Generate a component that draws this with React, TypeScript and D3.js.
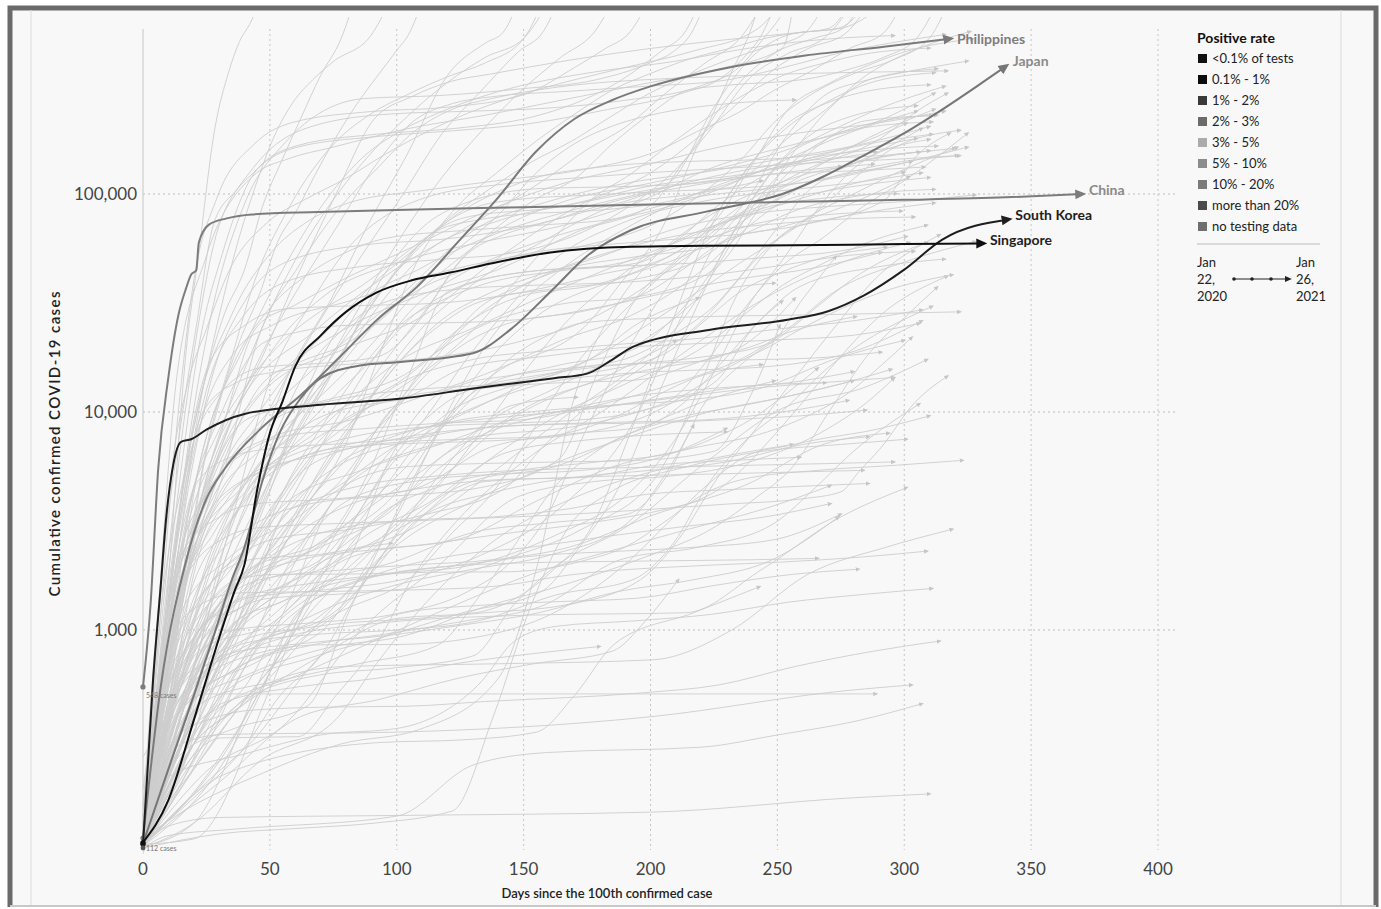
import React, { useEffect, useRef } from "react";
import * as d3 from "d3";

// axis + legend content
const xTicks = [0, 50, 100, 150, 200, 250, 300, 350, 400];
const yTicks = [1000, 10000, 100000];
const legendLabels = ["<0.1% of tests", "0.1% - 1%", "1% - 2%", "2% - 3%", "3% - 5%", "5% - 10%", "10% - 20%", "more than 20%", "no testing data"];
const legendColors = ["#111111", "#0c0c0c", "#393939", "#6b6b6b", "#ababab", "#8c8c8c", "#7b7b7b", "#4b4b4b", "#6f6f6f"];

// highlighted countries: [days since 100th case, cumulative cases]
const chinaPoints = [[0, 548], [3, 1320], [6, 5500], [10, 14400], [14, 28000], [17, 37000], [19, 42700], [21, 44700], [22, 59900], [26, 72400], [33, 77300], [43, 80600], [69, 82600], [100, 84500], [150, 87000], [200, 89500], [250, 91800], [300, 94000], [340, 96500], [370, 100000]];
const japanPoints = [[0, 105], [10, 230], [20, 500], [28, 950], [35, 1700], [40, 2400], [47, 4800], [54, 8100], [62, 11500], [70, 14300], [85, 16300], [100, 16900], [130, 18600], [145, 24000], [161, 36000], [175, 52000], [192, 68000], [222, 83000], [253, 101000], [268, 120000], [283, 148000], [300, 190000], [314, 240000], [330, 320000], [340, 385000]];
const philippinesPoints = [[0, 111], [7, 550], [17, 2080], [25, 4000], [32, 5450], [47, 8500], [62, 11900], [78, 18100], [93, 27000], [108, 37500], [124, 60000], [139, 93400], [155, 157000], [170, 220800], [185, 270000], [200, 311700], [231, 380700], [261, 431600], [292, 474100], [318, 515000]];
const southKoreaPoints = [[0, 104], [4, 600], [7, 1600], [9, 3150], [12, 5800], [15, 7300], [19, 7500], [25, 8300], [40, 9800], [70, 10800], [101, 11500], [131, 12850], [162, 14300], [175, 15000], [185, 17400], [193, 19900], [223, 23800], [254, 26500], [270, 29000], [284, 34200], [300, 45000], [315, 61800], [341, 76400]];
const singaporePoints = [[0, 106], [10, 166], [20, 385], [31, 1000], [36, 1500], [40, 2000], [45, 4400], [50, 8000], [55, 11200], [60, 16200], [70, 22400], [80, 28800], [92, 35300], [106, 40200], [121, 43600], [137, 48000], [152, 52000], [167, 55000], [183, 56800], [213, 57800], [245, 58000], [300, 58900], [331, 59300]];

// every other country, grey in the background
const backgroundSeries: [string, number[][]][] = [
  ["United States", [[0, 100], [10, 1700], [17, 19000], [22, 54000], [28, 190000], [34, 370000], [38, 500000], [42, 600000], [50, 1000000]]],
  ["Italy", [[0, 150], [7, 1700], [14, 7400], [21, 24700], [28, 74000], [37, 105000], [50, 160000], [67, 205000], [98, 233000], [130, 240000], [160, 248000], [190, 269000], [220, 314000], [235, 382000], [245, 525000], [250, 620000], [258, 900000]]],
  ["Spain", [[0, 120], [7, 1200], [13, 7800], [20, 40000], [29, 95000], [44, 170000], [59, 213000], [90, 239000], [120, 250000], [151, 288000], [170, 380000], [182, 463000], [192, 555000], [202, 900000]]],
  ["Germany", [[0, 130], [7, 1000], [14, 5800], [21, 22000], [30, 71800], [45, 130000], [60, 163000], [91, 183000], [122, 195000], [152, 210000], [183, 244000], [213, 291000], [228, 341000], [238, 438000], [243, 518000], [252, 900000]]],
  ["France", [[0, 100], [8, 1100], [15, 5400], [22, 20000], [31, 52000], [45, 130000], [61, 167000], [92, 188000], [123, 200000], [153, 225000], [170, 260000], [184, 310000], [204, 450000], [214, 563000], [222, 900000]]],
  ["United Kingdom", [[0, 115], [8, 700], [15, 4000], [26, 25000], [40, 90000], [56, 172000], [87, 274000], [117, 283000], [148, 303000], [179, 335000], [200, 400000], [209, 450000], [216, 545000], [224, 900000]]],
  ["Iran", [[0, 139], [7, 1500], [11, 5000], [18, 14000], [25, 24000], [34, 44600], [49, 74000], [64, 94600], [80, 118000], [95, 151000], [125, 227000], [156, 302000], [187, 373000], [217, 453000], [242, 570000], [256, 900000]]],
  ["Turkey", [[0, 100], [6, 1200], [13, 13500], [25, 52000], [43, 120000], [58, 146000], [74, 163000], [104, 199000], [135, 230000], [166, 271000], [196, 318000], [227, 375000], [252, 467000], [258, 1000000]]],
  ["Russia", [[0, 114], [7, 500], [14, 2300], [21, 8700], [29, 24500], [37, 58000], [44, 106000], [52, 187000], [59, 262000], [67, 335000], [75, 405000], [90, 537000], [100, 900000]]],
  ["Brazil", [[0, 121], [7, 1200], [17, 5700], [25, 15000], [32, 28000], [40, 45000], [47, 87000], [55, 145000], [62, 220000], [70, 350000], [78, 514000], [85, 900000]]],
  ["India", [[0, 107], [8, 500], [16, 1400], [23, 5000], [31, 12000], [38, 21000], [46, 34900], [53, 60000], [61, 85900], [69, 130000], [77, 190000], [85, 266000], [92, 343000], [100, 456000], [105, 548000], [112, 900000]]],
  ["Mexico", [[0, 118], [13, 1200], [25, 5000], [43, 19000], [58, 45000], [74, 90700], [89, 150000], [104, 226000], [120, 325000], [135, 424000], [150, 517000], [163, 900000]]],
  ["Peru", [[0, 117], [13, 1000], [25, 6800], [35, 17800], [43, 36900], [58, 88500], [74, 164000], [89, 230000], [104, 285000], [120, 345000], [135, 400000], [150, 516000], [160, 900000]]],
  ["Chile", [[0, 155], [15, 2700], [30, 8300], [45, 16000], [60, 40000], [76, 99700], [91, 220000], [106, 280000], [122, 330000], [137, 355000], [168, 411000], [198, 462000], [229, 509000], [259, 551000], [274, 576000], [290, 900000]]],
  ["Colombia", [[0, 128], [11, 906], [25, 3000], [41, 6500], [56, 14000], [72, 29000], [87, 54000], [102, 97800], [118, 190000], [133, 295000], [148, 450000], [158, 562000], [166, 900000]]],
  ["Argentina", [[0, 128], [11, 1050], [25, 2700], [41, 4400], [56, 7800], [72, 16200], [87, 32800], [102, 64500], [118, 120000], [133, 192000], [148, 290000], [164, 418000], [179, 577000], [188, 900000]]],
  ["South Africa", [[0, 116], [13, 1350], [28, 2800], [43, 5600], [58, 15500], [74, 32700], [89, 73500], [104, 151000], [120, 350000], [135, 493000], [142, 553000], [150, 900000]]],
  ["Indonesia", [[0, 117], [16, 1500], [30, 5100], [46, 10100], [61, 17000], [77, 26500], [92, 40000], [107, 56000], [122, 80000], [138, 108000], [153, 140000], [169, 175000], [184, 225000], [199, 287000], [215, 350000], [230, 410000], [245, 470000], [260, 538000], [272, 900000]]],
  ["Canada", [[0, 100], [10, 1400], [20, 8500], [35, 28000], [50, 53000], [65, 75000], [81, 91000], [111, 104000], [142, 116000], [173, 129000], [203, 158000], [219, 195000], [234, 234000], [249, 300000], [264, 370000], [279, 468000], [292, 550000], [302, 900000]]],
  ["Netherlands", [[0, 128], [10, 1400], [25, 12600], [40, 28000], [55, 39000], [86, 46500], [116, 50000], [147, 54000], [178, 71000], [193, 90000], [208, 123000], [224, 200000], [239, 340000], [254, 440000], [269, 525000], [284, 900000]]],
  ["Belgium", [[0, 109], [10, 1100], [26, 12800], [41, 33500], [56, 48500], [87, 58400], [117, 61800], [148, 69800], [179, 85800], [194, 96000], [209, 117000], [225, 250000], [240, 426000], [255, 540000], [270, 574000], [282, 900000]]],
  ["Poland", [[0, 103], [18, 2300], [33, 7500], [48, 12900], [79, 23800], [109, 34300], [140, 45000], [171, 67000], [201, 90600], [211, 130000], [221, 192000], [232, 363000], [239, 546000], [245, 900000]]],
  ["Czechia", [[0, 116], [10, 1100], [21, 3300], [35, 6000], [51, 7700], [82, 9200], [112, 12000], [143, 16300], [174, 24600], [189, 40000], [204, 67800], [220, 180000], [235, 323000], [250, 450000], [265, 520000], [276, 577000], [286, 900000]]],
  ["Romania", [[0, 123], [18, 2200], [33, 6900], [48, 12600], [79, 19400], [109, 27000], [140, 50900], [171, 87500], [201, 127000], [217, 175000], [232, 246000], [247, 360000], [262, 464000], [277, 547000], [290, 900000]]],
  ["Portugal", [[0, 112], [10, 1300], [21, 7400], [36, 18800], [51, 25000], [82, 32500], [112, 42100], [143, 50900], [174, 58000], [204, 75500], [220, 100000], [235, 141000], [250, 220000], [265, 294000], [281, 360000], [296, 414000], [310, 520000], [320, 900000]]],
  ["Ukraine", [[0, 113], [15, 1600], [37, 10400], [68, 23700], [98, 44000], [129, 72000], [160, 120000], [175, 160000], [190, 202000], [206, 290000], [221, 395000], [236, 530000], [248, 900000]]],
  ["Israel", [[0, 126], [8, 1000], [17, 5400], [30, 12000], [47, 16000], [78, 17000], [93, 18000], [108, 25500], [124, 48000], [139, 69500], [155, 95000], [170, 117000], [185, 170000], [200, 234000], [215, 300000], [231, 316000], [261, 336000], [277, 370000], [292, 424000], [305, 520000], [316, 900000]]],
  ["Iraq", [[0, 110], [17, 694], [32, 1400], [47, 2100], [62, 3500], [78, 6400], [93, 18000], [108, 49000], [124, 88000], [139, 124000], [155, 175000], [170, 232000], [185, 300000], [200, 357000], [215, 415000], [231, 465000], [246, 520000], [261, 554000], [275, 575000], [300, 900000]]],
  ["Sweden", [[0, 137], [10, 1100], [25, 4400], [40, 12500], [55, 21000], [70, 29000], [86, 37800], [101, 51000], [116, 68000], [132, 76000], [147, 80400], [178, 84000], [208, 93000], [224, 105000], [239, 124000], [254, 180000], [269, 243000], [285, 350000], [300, 437000], [315, 510000], [326, 556000]]],
  ["Pakistan", [[0, 187], [15, 2000], [30, 6500], [45, 16800], [60, 35000], [76, 69500], [91, 132000], [106, 213000], [122, 260000], [137, 279000], [168, 296000], [198, 312000], [229, 332000], [244, 360000], [259, 398000], [275, 445000], [290, 482000], [316, 539000]]],
  ["Bangladesh", [[0, 123], [10, 1000], [25, 7700], [40, 20000], [56, 47000], [71, 90000], [86, 145000], [101, 193000], [117, 237000], [132, 276000], [148, 312000], [178, 363000], [209, 405000], [239, 467000], [270, 514000], [296, 533000]]],
  ["Switzerland", [[0, 100], [10, 1400], [26, 16600], [41, 25400], [56, 29700], [87, 30800], [117, 31600], [148, 35200], [179, 42400], [209, 53000], [225, 74000], [240, 136000], [255, 250000], [270, 320000], [286, 390000], [301, 452000], [327, 515000]]],
  ["Austria", [[0, 104], [10, 1300], [24, 10200], [39, 14000], [54, 15400], [85, 16700], [115, 17800], [146, 20700], [177, 27000], [207, 44600], [223, 62000], [238, 94000], [253, 180000], [268, 280000], [284, 330000], [299, 360000], [325, 407000]]],
  ["Saudi Arabia", [[0, 103], [16, 1600], [31, 4900], [46, 22800], [61, 46000], [77, 85000], [92, 130000], [107, 194000], [122, 245000], [138, 275000], [169, 315000], [199, 335000], [230, 347000], [260, 357000], [291, 363000], [317, 367000]]],
  ["Morocco", [[0, 115], [17, 2000], [39, 4500], [70, 7800], [100, 12600], [116, 17000], [131, 24300], [147, 40000], [162, 62700], [177, 95000], [192, 123000], [208, 170000], [223, 226000], [238, 290000], [253, 353000], [269, 400000], [284, 438000], [310, 467000]]],
  ["Hungary", [[0, 103], [20, 1400], [41, 2900], [72, 3900], [103, 4150], [133, 4500], [164, 6100], [179, 15000], [194, 32800], [210, 50000], [225, 79000], [240, 140000], [255, 207000], [271, 270000], [286, 322000], [312, 360000]]],
  ["Serbia", [[0, 103], [12, 900], [27, 5000], [42, 9400], [73, 11400], [103, 14800], [119, 20000], [134, 25000], [165, 31300], [195, 33800], [226, 46000], [241, 80000], [256, 153000], [271, 250000], [287, 337000], [313, 375000]]],
  ["Jordan", [[0, 112], [20, 300], [39, 450], [70, 760], [100, 1130], [131, 1200], [162, 1900], [177, 3000], [192, 8000], [208, 25000], [223, 68000], [238, 130000], [253, 206000], [269, 260000], [284, 294000], [310, 317000]]],
  ["Nepal", [[0, 100], [17, 1600], [32, 6000], [47, 13500], [62, 17000], [78, 20000], [93, 26000], [109, 39500], [124, 56000], [139, 78000], [155, 125000], [170, 170000], [185, 205000], [200, 230000], [231, 260000], [257, 270000]]],
  ["United Arab Emirates", [[0, 140], [11, 660], [25, 5000], [41, 12500], [56, 23000], [72, 34500], [102, 49000], [133, 60000], [164, 71000], [194, 90600], [225, 133000], [255, 167000], [286, 207000], [312, 290000]]],
  ["Panama", [[0, 109], [15, 1300], [30, 4200], [45, 6500], [76, 13800], [91, 21000], [106, 33600], [122, 48000], [137, 65000], [168, 94000], [198, 111000], [229, 133000], [259, 168000], [275, 205000], [290, 246000], [316, 312000]]],
  ["Lebanon", [[0, 110], [16, 460], [46, 725], [77, 1200], [107, 1800], [122, 2800], [138, 4300], [153, 8000], [169, 15600], [184, 25000], [199, 37000], [215, 55000], [230, 79000], [260, 127000], [291, 181000], [305, 240000], [317, 290000]]],
  ["Ecuador", [[0, 111], [15, 2200], [30, 7500], [45, 24700], [60, 31000], [76, 39000], [106, 57000], [137, 85000], [168, 114000], [198, 136000], [229, 166000], [259, 191000], [290, 212000], [316, 240000]]],
  ["Bolivia", [[0, 107], [15, 400], [30, 1100], [45, 3300], [61, 9600], [76, 19000], [91, 33000], [107, 54000], [122, 78000], [138, 100000], [153, 117000], [183, 134000], [214, 141000], [244, 144000], [275, 160000], [290, 185000], [301, 212000]]],
  ["Denmark", [[0, 157], [10, 1000], [21, 2900], [36, 6500], [51, 9200], [82, 11700], [112, 12800], [143, 13600], [174, 17000], [204, 27500], [235, 48000], [265, 82000], [281, 120000], [296, 163000], [322, 196000]]],
  ["Ireland", [[0, 129], [17, 3200], [32, 10600], [47, 20600], [62, 23400], [78, 24900], [108, 25500], [139, 26100], [170, 28800], [200, 36000], [215, 47000], [231, 62600], [261, 72500], [292, 93500], [305, 150000], [318, 190000]]],
  ["Greece", [[0, 117], [21, 1300], [51, 2600], [82, 2900], [112, 3400], [143, 4500], [158, 7000], [174, 10300], [204, 18500], [220, 26000], [235, 41000], [250, 70000], [265, 110000], [281, 128000], [296, 139000], [322, 150000]]],
  ["Egypt", [[0, 109], [24, 710], [39, 2200], [54, 5500], [70, 12000], [85, 24900], [100, 45000], [115, 68000], [130, 86000], [146, 94000], [177, 99000], [207, 103000], [238, 107000], [268, 116000], [299, 138000], [325, 164000]]],
  ["Kuwait", [[0, 100], [19, 300], [34, 1400], [49, 4000], [65, 13000], [80, 27000], [110, 46000], [141, 67000], [172, 86000], [202, 104000], [233, 126000], [263, 143000], [294, 151000], [320, 162000]]],
  ["Qatar", [[0, 262], [20, 780], [35, 3200], [50, 14000], [65, 30000], [81, 56900], [96, 80000], [111, 96000], [142, 111000], [173, 119000], [203, 126000], [234, 132000], [264, 139000], [295, 144000], [321, 150000]]],
  ["Malaysia", [[0, 117], [10, 550], [24, 2800], [39, 4800], [54, 6000], [85, 7800], [115, 8600], [146, 8900], [177, 9300], [207, 11200], [222, 17000], [238, 30900], [253, 48000], [268, 63000], [284, 88000], [299, 113000], [325, 190000]]],
  ["Australia", [[0, 107], [10, 700], [21, 4700], [36, 6300], [51, 6800], [82, 7200], [112, 7800], [128, 11000], [143, 17000], [158, 22000], [174, 25700], [204, 27000], [235, 27600], [265, 27900], [296, 28400], [322, 28800]]],
  ["Thailand", [[0, 114], [8, 600], [16, 1650], [31, 2600], [46, 2950], [77, 3080], [107, 3170], [169, 3400], [230, 3780], [260, 4000], [275, 4300], [282, 5300], [291, 6900], [304, 11000], [317, 14600]]],
  ["New Zealand", [[0, 102], [8, 650], [18, 1200], [38, 1480], [69, 1500], [130, 1560], [150, 1650], [161, 1740], [222, 1980], [252, 2050], [283, 2160], [309, 2300]]],
  ["Vietnam", [[0, 106], [10, 212], [40, 270], [70, 330], [101, 355], [132, 558], [147, 900], [163, 1040], [193, 1100], [224, 1180], [254, 1340], [285, 1460], [311, 1550]]],
  ["Taiwan", [[0, 100], [13, 322], [28, 395], [43, 429], [73, 443], [104, 447], [135, 470], [196, 514], [227, 560], [257, 680], [288, 800], [314, 890]]],
  ["Iceland", [[0, 100], [10, 470], [22, 1100], [37, 1700], [52, 1800], [83, 1806], [113, 1840], [144, 1850], [175, 2100], [190, 2400], [205, 3100], [221, 4200], [236, 4900], [266, 5400], [297, 5700], [323, 6000]]],
  ["Mauritius", [[0, 107], [2, 143], [15, 300], [32, 332], [100, 340], [200, 400], [277, 527], [303, 560]]],
  ["Cambodia", [[0, 100], [10, 114], [36, 122], [100, 140], [130, 240], [159, 274], [220, 290], [250, 330], [281, 382], [307, 459]]],
  ["Brunei", [[0, 104], [10, 126], [30, 138], [100, 141], [200, 146], [280, 170], [310, 177]]],
  ["Mongolia", [[0, 102], [33, 220], [94, 305], [125, 313], [155, 340], [170, 500], [186, 866], [217, 1200], [243, 1580]]],
  ["Sri Lanka", [[0, 102], [8, 140], [38, 665], [69, 1600], [99, 2050], [130, 2800], [160, 3100], [191, 3400], [206, 5000], [222, 11300], [237, 17000], [252, 22500], [268, 32000], [283, 43300], [309, 60000]]],
  ["Cuba", [[0, 119], [15, 600], [32, 1500], [62, 2100], [93, 2350], [124, 2600], [155, 3900], [185, 5600], [216, 6800], [246, 8100], [262, 9600], [277, 12000], [290, 16000], [303, 22000]]],
  ["Uruguay", [[0, 110], [12, 400], [42, 630], [73, 830], [103, 940], [134, 1270], [165, 1600], [195, 2100], [226, 3000], [241, 4000], [256, 5600], [271, 10300], [287, 19100], [300, 27000], [313, 37400]]],
  ["Estonia", [[0, 115], [16, 750], [46, 1700], [77, 1880], [107, 1990], [138, 2100], [168, 2400], [199, 3300], [230, 4700], [245, 7000], [260, 11100], [275, 18000], [291, 28000], [317, 42000]]],
  ["Finland", [[0, 109], [18, 1400], [33, 3000], [48, 5000], [79, 6900], [109, 7200], [140, 7400], [170, 7900], [201, 9900], [216, 12500], [232, 16300], [247, 20000], [262, 25000], [293, 36100], [319, 42600]]],
  ["Norway", [[0, 113], [12, 1700], [27, 4600], [42, 6700], [57, 7800], [88, 8400], [118, 8900], [149, 9200], [180, 10800], [210, 13600], [241, 18900], [256, 25000], [271, 34700], [302, 49600], [328, 60500]]],
  ["Latvia", [[0, 111], [13, 450], [43, 870], [74, 1060], [104, 1120], [135, 1200], [166, 1300], [196, 1700], [211, 2600], [227, 5100], [242, 8500], [257, 14400], [272, 24000], [288, 40200], [314, 65000]]],
  ["Lithuania", [[0, 105], [9, 530], [39, 1400], [70, 1660], [100, 1820], [131, 2000], [162, 2700], [192, 4300], [208, 7000], [223, 13800], [238, 30000], [253, 51600], [269, 95000], [284, 142000], [310, 178000]]],
  ["Slovenia", [[0, 141], [20, 800], [50, 1400], [81, 1470], [111, 1600], [142, 2100], [173, 2900], [203, 5200], [218, 12000], [234, 34300], [249, 60000], [264, 80500], [280, 100000], [295, 122000], [321, 164000]]],
  ["Croatia", [[0, 105], [12, 870], [42, 2100], [73, 2250], [103, 2800], [134, 4900], [165, 9300], [195, 16600], [211, 25000], [226, 45700], [241, 90000], [256, 140000], [272, 185000], [287, 211000], [313, 230000]]],
  ["Bulgaria", [[0, 127], [10, 400], [40, 1500], [71, 2500], [101, 5200], [132, 12700], [163, 16300], [193, 19300], [209, 27000], [224, 44000], [239, 90000], [254, 150000], [270, 185000], [285, 202000], [311, 214000]]],
  ["Slovakia", [[0, 137], [11, 360], [41, 1400], [72, 1530], [102, 1700], [133, 2200], [164, 3600], [194, 9300], [210, 24000], [225, 57400], [240, 90000], [255, 113000], [271, 145000], [286, 181000], [312, 245000]]],
  ["Belarus", [[0, 94], [5, 152], [20, 4200], [34, 14900], [50, 30000], [65, 42800], [80, 54000], [95, 62400], [126, 68000], [157, 72000], [187, 77300], [218, 96000], [248, 135000], [279, 192000], [305, 240000]]],
  ["Kazakhstan", [[0, 111], [5, 350], [20, 1300], [34, 3400], [65, 11000], [80, 20000], [95, 42600], [110, 70000], [126, 90000], [157, 106000], [187, 108000], [218, 112000], [248, 131000], [279, 157000], [305, 180000]]],
  ["Dominican Republic", [[0, 112], [9, 1100], [24, 3300], [39, 6900], [70, 16900], [100, 33000], [131, 69000], [162, 94000], [192, 113000], [223, 127000], [253, 146000], [284, 170000], [310, 204000]]],
  ["Costa Rica", [[0, 113], [10, 350], [40, 700], [71, 1000], [86, 1800], [101, 3500], [117, 8500], [132, 17800], [147, 30000], [163, 43500], [193, 72500], [224, 107000], [254, 137000], [285, 169000], [311, 188000]]],
  ["Guatemala", [[0, 126], [18, 590], [34, 1500], [49, 4600], [64, 9800], [79, 18000], [95, 33000], [110, 52000], [141, 76000], [171, 91000], [202, 110000], [232, 121000], [263, 139000], [289, 156000]]],
  ["Honduras", [[0, 110], [17, 500], [32, 800], [48, 2300], [63, 5000], [78, 10000], [93, 19000], [109, 32000], [124, 42000], [155, 60000], [185, 76000], [216, 96000], [246, 106000], [277, 123000], [303, 141000]]],
  ["Paraguay", [[0, 104], [29, 240], [60, 990], [90, 2300], [121, 5300], [136, 9000], [152, 16200], [167, 26000], [182, 37200], [213, 63000], [243, 83000], [274, 107000], [300, 126000]]],
  ["Venezuela", [[0, 106], [20, 180], [36, 330], [67, 1500], [82, 3000], [97, 5800], [113, 10000], [128, 17800], [144, 30000], [159, 46700], [189, 73700], [220, 92300], [250, 103000], [281, 113000], [307, 125000]]],
  ["El Salvador", [[0, 103], [20, 395], [36, 1000], [51, 2500], [66, 4000], [81, 6200], [97, 9500], [112, 15000], [128, 21000], [143, 25300], [173, 28900], [204, 34800], [234, 40600], [265, 45900], [291, 54000]]],
  ["Ethiopia", [[0, 113], [20, 400], [35, 1200], [50, 3000], [65, 5800], [81, 10000], [96, 17500], [112, 30000], [127, 52000], [142, 65000], [157, 73000], [188, 94000], [218, 110000], [249, 124000], [275, 134000]]],
  ["Kenya", [[0, 122], [26, 396], [41, 800], [57, 1960], [72, 3500], [87, 6200], [103, 12000], [118, 20600], [133, 28000], [149, 34000], [179, 38500], [210, 53800], [225, 70000], [240, 83000], [271, 96500], [297, 100400]]],
  ["Nigeria", [[0, 111], [15, 400], [31, 1900], [46, 4800], [62, 10200], [77, 16000], [92, 25700], [108, 36000], [123, 43200], [154, 54000], [184, 58800], [215, 62700], [245, 67900], [261, 76000], [276, 87500], [302, 120000]]],
  ["Ghana", [[0, 152], [15, 600], [30, 2070], [45, 5500], [61, 8000], [76, 12000], [91, 17700], [107, 28000], [122, 36000], [153, 44200], [183, 46500], [214, 48000], [244, 51000], [275, 54800], [301, 63900]]],
  ["Algeria", [[0, 139], [15, 700], [30, 2500], [41, 4000], [57, 6600], [72, 9400], [102, 14000], [118, 20000], [133, 30400], [149, 38000], [164, 44500], [194, 51500], [225, 57900], [240, 68000], [255, 82200], [286, 99600], [312, 105000]]],
  ["Tunisia", [[0, 114], [15, 550], [36, 1000], [67, 1080], [97, 1170], [128, 1500], [144, 2000], [159, 3300], [174, 8000], [189, 17500], [205, 35000], [220, 60000], [235, 80000], [250, 94000], [266, 118000], [281, 139000], [307, 200000]]],
  ["Cameroon", [[0, 113], [15, 800], [36, 2000], [51, 3500], [67, 6400], [82, 9000], [97, 12600], [128, 17200], [159, 19100], [189, 20500], [220, 21800], [250, 24000], [281, 26300], [307, 29400]]],
  ["Cote d'Ivoire", [[0, 101], [15, 300], [35, 1300], [50, 1900], [66, 2800], [81, 5000], [96, 9700], [112, 13000], [127, 16000], [158, 18000], [188, 19700], [219, 20600], [249, 21400], [280, 22500], [306, 25500]]],
  ["Senegal", [[0, 105], [15, 250], [36, 930], [51, 2000], [67, 3700], [82, 5000], [97, 6700], [128, 10200], [159, 13600], [189, 15000], [220, 15600], [250, 16300], [281, 19100], [307, 26200]]],
  ["Afghanistan", [[0, 110], [15, 420], [33, 2200], [49, 6400], [64, 15200], [79, 24000], [94, 31500], [125, 36700], [156, 38200], [186, 39200], [217, 41700], [247, 46200], [278, 52300], [304, 54600]]],
  ["Uzbekistan", [[0, 104], [15, 1200], [33, 2100], [64, 3500], [79, 5000], [94, 8900], [110, 15000], [125, 23600], [141, 33000], [156, 41300], [186, 55000], [217, 66400], [247, 72600], [278, 77000], [304, 78400]]],
  ["Kyrgyzstan", [[0, 107], [28, 750], [59, 1700], [74, 2700], [89, 5300], [105, 15000], [120, 35600], [151, 44000], [181, 46600], [212, 57500], [227, 65000], [242, 73300], [273, 81000], [299, 83600]]],
  ["Armenia", [[0, 115], [12, 530], [27, 1100], [42, 2000], [58, 5000], [73, 9500], [88, 17000], [103, 26000], [119, 33000], [134, 38500], [165, 44500], [195, 48300], [211, 62000], [226, 87400], [241, 115000], [256, 139000], [287, 159000], [313, 166000]]],
  ["Azerbaijan", [[0, 105], [10, 270], [40, 1800], [71, 5500], [86, 10000], [101, 17000], [117, 25000], [132, 31800], [163, 36900], [193, 40400], [224, 54200], [239, 80000], [254, 124000], [270, 180000], [285, 217000], [311, 229000]]],
  ["Georgia", [[0, 103], [34, 539], [65, 740], [95, 930], [126, 1200], [157, 1500], [172, 2400], [187, 4400], [203, 12000], [218, 30000], [233, 68000], [248, 128000], [264, 190000], [279, 227000], [305, 254000]]],
  ["Moldova", [[0, 109], [9, 350], [39, 3900], [70, 8400], [100, 16900], [131, 24500], [162, 35800], [192, 49800], [223, 69300], [238, 85000], [253, 108000], [269, 127000], [284, 142000], [310, 158000]]],
  ["Bosnia and Herzegovina", [[0, 126], [9, 560], [39, 1800], [70, 2500], [100, 4300], [116, 8000], [131, 12700], [162, 20600], [192, 27600], [208, 35000], [223, 47600], [238, 70000], [253, 92900], [269, 103000], [284, 110000], [310, 119000]]],
  ["North Macedonia", [[0, 114], [11, 330], [41, 1500], [72, 2200], [102, 6500], [133, 10700], [164, 15200], [194, 18200], [210, 23000], [225, 30600], [240, 48000], [255, 68600], [271, 77000], [286, 82700], [312, 91000]]],
  ["Albania", [[0, 104], [8, 240], [38, 770], [69, 1140], [99, 2500], [130, 5300], [161, 9300], [191, 13600], [222, 20300], [237, 28000], [252, 38100], [268, 48000], [283, 58300], [309, 71900]]],
  ["Luxembourg", [[0, 140], [15, 2200], [30, 3300], [45, 3800], [76, 4000], [106, 4400], [137, 6900], [167, 7900], [198, 8600], [213, 11000], [229, 17300], [244, 27000], [259, 37700], [290, 46400], [316, 50300]]],
  ["Cyprus", [[0, 124], [10, 320], [40, 870], [71, 960], [101, 1000], [132, 1100], [163, 1450], [193, 1700], [209, 2500], [224, 4900], [239, 7700], [254, 10600], [270, 16000], [285, 21300], [311, 30500]]],
  ["Malta", [[0, 107], [8, 160], [38, 460], [69, 620], [99, 670], [130, 760], [146, 1300], [161, 1900], [191, 3000], [222, 5900], [252, 10400], [283, 12800], [309, 17400]]],
  ["Jamaica", [[0, 100], [24, 470], [55, 590], [85, 700], [116, 850], [132, 1400], [147, 2500], [162, 4500], [177, 6400], [208, 9200], [238, 10800], [269, 12900], [295, 15700]]],
  ["Trinidad and Tobago", [[0, 100], [30, 116], [61, 123], [91, 130], [122, 148], [138, 400], [153, 1300], [168, 3000], [183, 4200], [214, 5600], [244, 6600], [275, 7100], [301, 7500]]],
  ["Bahamas", [[0, 104], [20, 110], [51, 570], [66, 1500], [82, 2400], [112, 3800], [143, 6500], [173, 7400], [204, 7900], [230, 8100]]],
  ["Haiti", [[0, 100], [20, 600], [38, 2000], [53, 4000], [68, 5900], [99, 7500], [130, 8400], [160, 8800], [191, 9000], [221, 9200], [252, 10000], [278, 11300]]],
  ["Zambia", [[0, 106], [15, 450], [33, 1000], [63, 1600], [78, 3000], [94, 5900], [110, 9000], [125, 12100], [155, 14700], [186, 16400], [216, 17600], [247, 20700], [260, 33000], [273, 51600]]],
  ["Zimbabwe", [[0, 102], [15, 300], [42, 590], [58, 1400], [73, 3600], [89, 5500], [104, 6500], [134, 7800], [165, 8400], [195, 10000], [226, 13900], [240, 24000], [252, 32300]]],
  ["Uganda", [[0, 100], [15, 550], [39, 890], [70, 1100], [86, 1600], [101, 2900], [116, 5000], [131, 8000], [162, 12800], [192, 19400], [208, 26000], [223, 35200], [249, 39000]]],
  ["Mozambique", [[0, 101], [20, 250], [47, 900], [78, 1800], [109, 3900], [124, 5800], [139, 8300], [170, 12800], [200, 15700], [231, 18600], [245, 24000], [257, 33300]]],
  ["Namibia", [[0, 102], [25, 1000], [40, 2100], [56, 4500], [71, 7700], [101, 11600], [132, 13000], [162, 14800], [178, 18000], [193, 24600], [219, 33400]]],
  ["Malawi", [[0, 101], [20, 500], [41, 1300], [57, 2600], [72, 4000], [103, 5600], [133, 5800], [164, 5900], [195, 6000], [225, 6600], [238, 11000], [251, 25000]]],
  ["Botswana", [[0, 105], [15, 300], [31, 800], [62, 1700], [92, 3200], [123, 6300], [153, 10800], [184, 14800], [198, 18000], [210, 21300]]],
  ["Madagascar", [[0, 102], [20, 130], [51, 770], [66, 1400], [81, 2100], [97, 6000], [112, 11000], [127, 13500], [143, 14600], [173, 16100], [204, 16800], [234, 17300], [265, 17700], [291, 18800]]],
  ["DR Congo", [[0, 109], [29, 570], [45, 1400], [60, 3000], [75, 5500], [90, 7000], [121, 9000], [152, 10000], [182, 10700], [213, 11300], [243, 12800], [274, 17700], [300, 21300]]],
  ["Sudan", [[0, 107], [10, 420], [25, 2000], [41, 4800], [56, 7400], [71, 9600], [102, 11400], [132, 12800], [163, 13600], [194, 14000], [224, 17700], [240, 20000], [255, 23300], [281, 27400]]],
  ["Somalia", [[0, 116], [15, 600], [30, 1300], [46, 2000], [76, 2900], [107, 3200], [138, 3300], [168, 3600], [199, 4200], [230, 4400], [286, 4700]]],
  ["Burkina Faso", [[0, 114], [15, 300], [35, 650], [66, 850], [96, 960], [127, 1100], [158, 1300], [188, 2100], [219, 2400], [249, 3100], [265, 4500], [280, 6600], [306, 10900]]],
  ["Mali", [[0, 105], [23, 490], [54, 1250], [84, 2200], [115, 2500], [146, 2800], [176, 3100], [207, 3600], [237, 4600], [268, 7100], [294, 8000]]],
  ["Niger", [[0, 120], [15, 600], [30, 720], [61, 960], [91, 1070], [152, 1170], [214, 1200], [244, 1900], [275, 3300], [301, 4500]]],
  ["Togo", [[0, 100], [31, 440], [61, 620], [92, 900], [123, 1300], [153, 1800], [184, 2300], [215, 2900], [245, 3600], [271, 4600]]],
  ["Benin", [[0, 102], [31, 240], [46, 500], [61, 1200], [92, 1800], [123, 2200], [153, 2400], [184, 2700], [215, 3000], [245, 3300], [271, 3800]]],
  ["Chad", [[0, 117], [15, 500], [34, 780], [64, 870], [95, 940], [125, 1050], [156, 1200], [187, 1500], [217, 1700], [248, 2100], [274, 3300]]],
  ["Liberia", [[0, 101], [25, 200], [42, 300], [72, 800], [103, 1200], [134, 1300], [164, 1350], [195, 1400], [225, 1600], [256, 1800], [282, 1900]]],
  ["Sierra Leone", [[0, 104], [20, 500], [35, 930], [65, 1500], [96, 1800], [127, 2000], [157, 2200], [188, 2300], [218, 2400], [249, 2600], [275, 3400]]],
  ["Gabon", [[0, 120], [14, 280], [30, 1200], [45, 2600], [60, 4000], [75, 5500], [106, 7400], [136, 8500], [167, 8800], [198, 8900], [228, 9200], [259, 9600], [285, 10200]]],
  ["Congo", [[0, 117], [20, 230], [47, 600], [62, 900], [77, 1200], [93, 2000], [108, 3200], [139, 4300], [169, 5000], [200, 5400], [230, 5900], [260, 7100], [286, 7700]]],
  ["Equatorial Guinea", [[0, 120], [15, 440], [44, 1300], [74, 2000], [105, 3100], [135, 4800], [166, 5000], [227, 5200], [284, 5400]]],
  ["Djibouti", [[0, 121], [10, 400], [25, 1100], [40, 1300], [56, 3400], [71, 4100], [86, 4600], [117, 5100], [148, 5400], [209, 5600], [270, 5800], [296, 5900]]],
  ["Guinea", [[0, 111], [10, 400], [25, 1500], [40, 2300], [56, 3800], [86, 5400], [117, 7100], [148, 9400], [178, 10400], [209, 11600], [239, 12800], [270, 13700], [296, 14400]]],
  ["Mauritania", [[0, 131], [10, 400], [20, 1800], [34, 4100], [49, 5500], [65, 6200], [96, 7200], [126, 7500], [157, 7700], [187, 9600], [203, 12000], [218, 14400], [244, 16500]]],
  ["Eswatini", [[0, 100], [26, 290], [56, 840], [72, 1700], [87, 2900], [118, 4600], [148, 5400], [179, 5900], [209, 6500], [225, 7600], [240, 9300], [253, 12000], [266, 15900]]],
  ["Lesotho", [[0, 100], [20, 300], [38, 700], [69, 1200], [99, 1600], [130, 1900], [160, 2200], [191, 3100], [205, 5000], [217, 8700]]],
  ["Rwanda", [[0, 102], [25, 225], [56, 370], [86, 1000], [117, 2000], [148, 4100], [178, 4800], [209, 5100], [239, 5900], [270, 8400], [285, 11000], [296, 14300]]],
  ["Tanzania", [[0, 104], [5, 170], [12, 300], [18, 480], [26, 509], [100, 509], [200, 509], [289, 509]]],
  ["Yemen", [[0, 106], [26, 310], [41, 700], [56, 1100], [87, 1700], [118, 1950], [148, 2030], [179, 2060], [240, 2100], [266, 2130]]],
  ["Syria", [[0, 106], [20, 170], [39, 280], [54, 500], [70, 760], [85, 1500], [101, 2800], [116, 4000], [132, 4900], [162, 5600], [193, 8100], [223, 11400], [249, 13900]]],
  ["Maldives", [[0, 108], [9, 490], [25, 1100], [40, 1700], [70, 2400], [101, 3800], [116, 6000], [132, 7700], [162, 9900], [193, 11800], [223, 12800], [254, 13600], [280, 15300]]],
  ["Cape Verde", [[0, 109], [20, 300], [40, 460], [70, 1100], [101, 2500], [132, 4000], [162, 5800], [193, 7800], [223, 10000], [254, 11800], [280, 13900]]],
  ["Andorra", [[0, 113], [9, 400], [39, 745], [70, 855], [100, 858], [131, 925], [162, 1200], [192, 2100], [208, 3200], [223, 4700], [238, 6300], [254, 7000], [269, 7600], [284, 8100], [310, 9600]]],
  ["San Marino", [[0, 101], [18, 236], [48, 560], [79, 680], [140, 700], [201, 730], [232, 1000], [262, 1800], [293, 2400], [319, 2900]]],
  ["Liechtenstein", [[0, 100], [10, 300], [25, 900], [40, 1300], [56, 1600], [72, 2100], [98, 2500]]],
  ["Kosovo", [[0, 112], [22, 800], [52, 1100], [83, 2900], [98, 5000], [114, 8600], [144, 13000], [175, 15000], [206, 18600], [221, 26000], [236, 36000], [252, 44000], [267, 50700], [293, 57000]]],
  ["Montenegro", [[0, 109], [31, 320], [61, 324], [76, 500], [92, 860], [107, 1800], [123, 3100], [153, 6300], [184, 10600], [215, 19400], [245, 33200], [276, 48800], [302, 60000]]],
  ["Tajikistan", [[0, 130], [15, 1400], [29, 3900], [59, 6000], [90, 7500], [121, 8900], [151, 9700], [182, 10600], [212, 11900], [243, 13300], [269, 13600]]],
  ["Palestine", [[0, 102], [15, 270], [35, 350], [65, 450], [81, 1200], [96, 2800], [112, 6500], [127, 12500], [143, 21000], [158, 29000], [188, 41000], [219, 56000], [234, 72000], [249, 94000], [265, 116000], [280, 138000], [306, 156000]]],
  ["Oman", [[0, 111], [15, 600], [37, 2400], [52, 5400], [68, 11400], [83, 23000], [98, 41200], [114, 66000], [129, 79000], [160, 86000], [190, 100000], [221, 114000], [251, 124000], [282, 128000], [308, 133000]]],
  ["Bahrain", [[0, 109], [12, 300], [27, 570], [42, 1700], [57, 3000], [72, 6000], [88, 11000], [103, 18000], [118, 26600], [134, 34000], [149, 40000], [180, 51500], [210, 69400], [241, 81400], [271, 87800], [302, 92700], [328, 99000]]],
  ["Libya", [[0, 130], [4, 150], [20, 500], [34, 870], [50, 2000], [65, 4100], [81, 8000], [96, 15200], [111, 25000], [126, 35500], [142, 48000], [157, 60100], [172, 75000], [187, 89100], [218, 100300], [244, 115000]]],
  ["Myanmar", [[0, 111], [17, 150], [47, 220], [78, 300], [109, 350], [140, 600], [155, 1900], [170, 11700], [186, 30000], [201, 50400], [216, 70000], [231, 89500], [247, 108000], [262, 124000], [288, 137000]]],
  ["Guyana", [[0, 100], [20, 130], [46, 250], [77, 400], [92, 700], [108, 1200], [139, 2600], [169, 4000], [200, 5300], [230, 6300], [256, 7100]]],
  ["Suriname", [[0, 104], [20, 300], [35, 700], [51, 1300], [66, 2700], [82, 4000], [112, 4900], [143, 5200], [173, 5400], [204, 6200], [230, 8400]]],
  ["Belize", [[0, 100], [20, 400], [38, 1000], [53, 1700], [84, 3300], [114, 5800], [130, 8000], [145, 10700], [171, 11700]]],
  ["Nicaragua", [[0, 110], [19, 760], [34, 1500], [49, 2200], [80, 3700], [111, 4500], [141, 4900], [172, 5000], [202, 5700], [233, 6000], [259, 6200]]],
  ["Burundi", [[0, 104], [30, 200], [62, 400], [93, 480], [124, 600], [154, 700], [185, 800], [198, 1100], [211, 1700]]],
  ["Papua New Guinea", [[0, 100], [15, 260], [31, 460], [62, 550], [92, 600], [123, 700], [154, 780], [180, 840]]],
];

const highlightNames = ["China", "Japan", "Philippines", "South Korea", "Singapore"];
const highlightPoints = [chinaPoints, japanPoints, philippinesPoints, southKoreaPoints, singaporePoints];

const W = 1381;
const H = 909;

export default function App() {
  const ref = useRef<SVGSVGElement>(null);

  useEffect(() => {
    const svg = d3.select(ref.current);
    svg.selectAll("*").remove();

    const x = d3.scaleLinear().domain([0, 400]).range([143, 1158]);
    const y = d3.scaleLog().domain([100, 100000]).range([848, 194]);
    const font = "Lato, 'Open Sans', sans-serif";

    // page frame
    svg.append("rect").attr("width", W).attr("height", H).attr("fill", "#ffffff");
    svg.append("rect").attr("x", 10).attr("y", 8).attr("width", 1366).attr("height", 898).attr("fill", "#f8f8f8");
    svg.append("path").attr("d", "M10,907V8H1376V907").attr("fill", "none").attr("stroke", "#6a6a6a").attr("stroke-width", 5);
    svg.append("line").attr("x1", 10).attr("x2", 1376).attr("y1", 906).attr("y2", 906).attr("stroke", "#c8c8c8").attr("stroke-width", 2);
    svg.append("line").attr("x1", 31).attr("x2", 31).attr("y1", 10).attr("y2", 905).attr("stroke", "#dcdcdc");
    svg.append("line").attr("x1", 1341).attr("x2", 1341).attr("y1", 10).attr("y2", 905).attr("stroke", "#dcdcdc");

    const defs = svg.append("defs");
    defs.append("clipPath").attr("id", "plotClip")
      .append("rect").attr("x", 138).attr("y", 17).attr("width", 1050).attr("height", 845);

    const addArrow = (id: string, color: string, size: number) => {
      defs.append("marker").attr("id", id)
        .attr("viewBox", "0 0 10 10").attr("refX", 6).attr("refY", 5)
        .attr("markerWidth", size).attr("markerHeight", size)
        .attr("markerUnits", "userSpaceOnUse").attr("orient", "auto")
        .append("path").attr("d", "M0,0.5L10,5L0,9.5Z").attr("fill", color);
    };
    addArrow("bgArrow", "#c6c6c6", 5);

    // grid
    const grid = svg.append("g");
    grid.selectAll(".hgrid").data(yTicks).enter().append("line")
      .attr("x1", 143).attr("x2", 1178)
      .attr("y1", (d) => y(d)).attr("y2", (d) => y(d))
      .attr("stroke", "#bdbdbd").attr("stroke-dasharray", "2,3");
    grid.selectAll(".vgrid").data(xTicks.slice(1)).enter().append("line")
      .attr("x1", (d) => x(d)).attr("x2", (d) => x(d))
      .attr("y1", 29).attr("y2", 850)
      .attr("stroke", "#c4c4c4").attr("stroke-dasharray", "2,3");
    grid.append("line").attr("x1", 143).attr("x2", 143).attr("y1", 29).attr("y2", 850)
      .attr("stroke", "#cfcfcf").attr("stroke-width", 1.2);

    // tick labels
    svg.selectAll(".ylab").data(yTicks).enter().append("text")
      .attr("x", 137).attr("y", (d) => y(d) + 6)
      .attr("text-anchor", "end").attr("font-family", font).attr("font-size", 17)
      .attr("fill", "#444").text((d) => d3.format(",")(d));
    svg.selectAll(".xlab").data(xTicks).enter().append("text")
      .attr("x", (d) => x(d)).attr("y", 875)
      .attr("text-anchor", "middle").attr("font-family", font).attr("font-size", 17)
      .attr("fill", "#444").text((d) => d);

    svg.append("text").attr("x", 607).attr("y", 898).attr("text-anchor", "middle")
      .attr("font-family", font).attr("font-size", 13).attr("font-weight", 600).attr("fill", "#222")
      .text("Days since the 100th confirmed case");
    svg.append("text").attr("transform", "translate(60,444) rotate(-90)").attr("text-anchor", "middle")
      .attr("font-family", font).attr("font-size", 15).attr("font-weight", 600).attr("fill", "#222")
      .attr("textLength", 305).attr("lengthAdjust", "spacing")
      .text("Cumulative confirmed COVID-19 cases");

    const line = d3.line<number[]>()
      .x((d) => x(d[0]))
      .y((d) => y(d[1]))
      .curve(d3.curveMonotoneX);

    const plot = svg.append("g").attr("clip-path", "url(#plotClip)");

    plot.selectAll(".bg").data(backgroundSeries).enter().append("path")
      .attr("d", (d) => line(d[1]))
      .attr("fill", "none").attr("stroke", "#cdcdcd").attr("stroke-width", 1)
      .attr("stroke-opacity", 0.9).attr("marker-end", "url(#bgArrow)");

    // highlighted countries
    const lineColors = ["#7c7c7c", "#767676", "#7a7a7a", "#1e1e1e", "#0f0f0f"];
    const labelColors = ["#8a8a8a", "#8a8a8a", "#7d7d7d", "#1e1e1e", "#1e1e1e"];
    const labelDy = [1, 0, 5, 1, 2];
    highlightNames.forEach((_name, i) => {
      addArrow("hlArrow" + i, lineColors[i], 11);
    });
    highlightPoints.forEach((pts, i) => {
      plot.append("path").attr("d", line(pts))
        .attr("fill", "none").attr("stroke", lineColors[i]).attr("stroke-width", 2)
        .attr("marker-end", `url(#hlArrow${i})`);
      plot.append("circle").attr("cx", x(pts[0][0])).attr("cy", y(pts[0][1])).attr("r", 2.6)
        .attr("fill", lineColors[i]);
    });
    highlightPoints.forEach((pts, i) => {
      const last = pts[pts.length - 1];
      svg.append("text").attr("x", x(last[0]) + 7).attr("y", y(last[1]) + labelDy[i])
        .attr("font-family", font).attr("font-size", 14).attr("font-weight", 700)
        .attr("fill", labelColors[i]).text(highlightNames[i]);
    });

    // start annotations
    svg.append("text").attr("x", 146).attr("y", y(chinaPoints[0][1]) + 11)
      .attr("font-family", font).attr("font-size", 7).attr("fill", "#777").text(`${chinaPoints[0][1]} cases`);
    svg.append("circle").attr("cx", 143).attr("cy", 848).attr("r", 2.4).attr("fill", "#555");
    svg.append("text").attr("x", 146).attr("y", 851)
      .attr("font-family", font).attr("font-size", 7).attr("fill", "#777").text("112 cases");

    // legend
    const legend = svg.append("g");
    legend.append("text").attr("x", 1197).attr("y", 43)
      .attr("font-family", font).attr("font-size", 14).attr("font-weight", 700).attr("fill", "#111")
      .text("Positive rate");
    const rows = legend.selectAll(".row").data(legendLabels).enter().append("g")
      .attr("transform", (_d, i) => `translate(1198,${59 + i * 21})`);
    rows.append("rect").attr("x", 0).attr("y", -5).attr("width", 9).attr("height", 9)
      .attr("fill", (_d, i) => legendColors[i]);
    rows.append("text").attr("x", 14).attr("y", 4)
      .attr("font-family", font).attr("font-size", 13).attr("fill", "#222").text((d) => d);
    legend.append("line").attr("x1", 1197).attr("x2", 1320).attr("y1", 244).attr("y2", 244)
      .attr("stroke", "#cfcfcf").attr("stroke-width", 1.5);

    const startDate = ["Jan", "22,", "2020"];
    const endDate = ["Jan", "26,", "2021"];
    startDate.forEach((t, i) => {
      legend.append("text").attr("x", 1197).attr("y", 267 + i * 17)
        .attr("font-family", font).attr("font-size", 13).attr("fill", "#222").text(t);
    });
    endDate.forEach((t, i) => {
      legend.append("text").attr("x", 1296).attr("y", 267 + i * 17)
        .attr("font-family", font).attr("font-size", 13).attr("fill", "#222").text(t);
    });
    addArrow("legArrow", "#222", 7);
    legend.append("line").attr("x1", 1234).attr("x2", 1289).attr("y1", 279).attr("y2", 279)
      .attr("stroke", "#222").attr("stroke-width", 1).attr("marker-end", "url(#legArrow)");
    [1234, 1252, 1271].forEach((cx) => {
      legend.append("circle").attr("cx", cx).attr("cy", 279).attr("r", 1.8).attr("fill", "#222");
    });
  }, []);

  return (
    <div style={{ position: "absolute", left: 0, top: 0 }}>
      <svg ref={ref} width={W} height={H} />
    </div>
  );
}
